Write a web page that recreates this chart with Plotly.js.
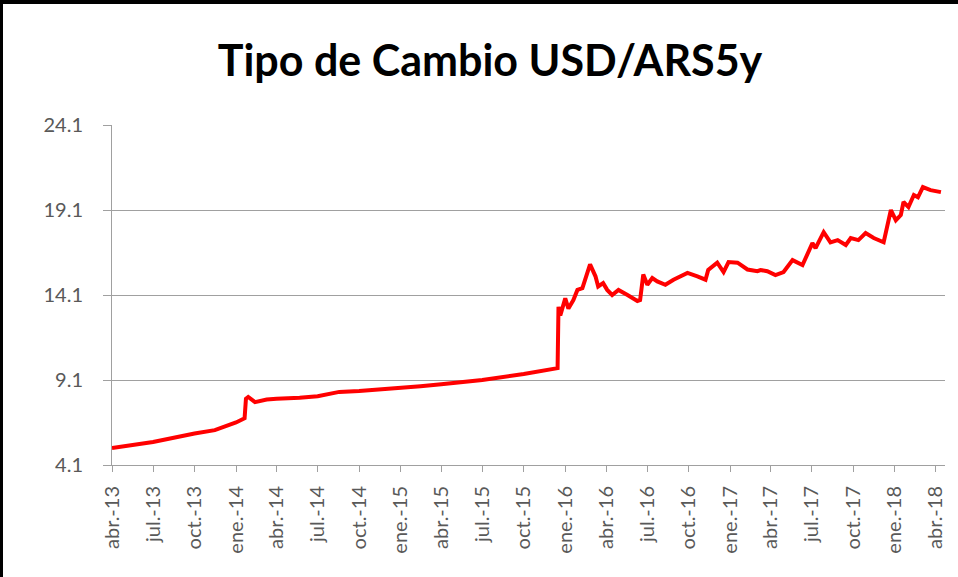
<!DOCTYPE html>
<html>
<head>
<meta charset="utf-8">
<script src="https://cdn.plot.ly/plotly-3.0.1.min.js"></script>
<style>
  html, body { margin: 0; padding: 0; background: #fff; }
  #chart { width: 958px; height: 577px; box-sizing: border-box; border-top: 4px solid #000; border-left: 3px solid #000; }
</style>
</head>
<body>
<div id="chart"></div>
<script>
var dates = [
  '2013-04-01','2013-07-01','2013-10-01','2013-11-15','2014-01-01','2014-01-20','2014-01-23','2014-01-28',
  '2014-02-12','2014-03-10','2014-04-01','2014-05-22','2014-07-01','2014-08-07','2014-08-18','2014-10-01',
  '2015-01-01','2015-02-14','2015-04-01','2015-07-01','2015-10-01','2015-12-15','2015-12-17','2015-12-21',
  '2016-01-01','2016-01-08','2016-01-19','2016-01-28','2016-02-08','2016-02-25','2016-03-08','2016-03-14',
  '2016-03-25','2016-04-03','2016-04-14','2016-04-28','2016-05-18','2016-06-09','2016-06-15','2016-06-22',
  '2016-07-01','2016-07-12','2016-07-23','2016-08-10','2016-08-28','2016-09-28','2016-10-20','2016-11-07',
  '2016-11-13','2016-12-03','2016-12-17','2016-12-28','2017-01-17','2017-02-08','2017-03-02','2017-03-09',
  '2017-03-24','2017-04-11','2017-04-29','2017-05-19','2017-06-10','2017-07-02','2017-07-09','2017-07-27',
  '2017-08-11','2017-08-27','2017-09-14','2017-09-25','2017-10-12','2017-10-28','2017-11-15','2017-12-07',
  '2017-12-23','2018-01-03','2018-01-14','2018-01-20','2018-01-31','2018-02-12','2018-02-21','2018-03-04',
  '2018-03-21','2018-04-13'
];
var usdArs = [
  5.10, 5.45, 5.95, 6.15, 6.60, 6.85, 8.00, 8.10,
  7.80, 7.95, 8.00, 8.05, 8.15, 8.30, 8.40, 8.45,
  8.60, 8.73, 8.85, 9.10, 9.45, 9.80, 13.40, 12.90,
  13.90, 13.30, 13.80, 14.40, 14.50, 15.90, 15.20, 14.60,
  14.80, 14.40, 14.10, 14.40, 14.10, 13.75, 13.80, 15.30,
  14.70, 15.10, 14.90, 14.70, 15.00, 15.40, 15.20, 15.00,
  15.57, 16.00, 15.45, 16.04, 16.00, 15.60, 15.50, 15.57,
  15.50, 15.27, 15.45, 16.15, 15.86, 17.15, 16.86, 17.80,
  17.20, 17.33, 17.04, 17.45, 17.33, 17.74, 17.45, 17.20,
  19.10, 18.50, 18.80, 19.57, 19.27, 19.98, 19.85, 20.45,
  20.27, 20.15
];
var tickDates = [
  '2013-04-01','2013-07-01','2013-10-01','2014-01-01','2014-04-01','2014-07-01','2014-10-01',
  '2015-01-01','2015-04-01','2015-07-01','2015-10-01','2016-01-01','2016-04-01','2016-07-01',
  '2016-10-01','2017-01-01','2017-04-01','2017-07-01','2017-10-01','2018-01-01','2018-04-01'
];
var tickLabels = [
  'abr.-13','jul.-13','oct.-13','ene.-14','abr.-14','jul.-14','oct.-14',
  'ene.-15','abr.-15','jul.-15','oct.-15','ene.-16','abr.-16','jul.-16',
  'oct.-16','ene.-17','abr.-17','jul.-17','oct.-17','ene.-18','abr.-18'
];
var yTicks = [4.1, 9.1, 14.1, 19.1, 24.1];

var trace = {
  x: dates,
  y: usdArs,
  mode: 'lines',
  line: { color: '#ff0000', width: 4 },
  hoverinfo: 'x+y'
};

var layout = {
  width: 955, height: 573,
  margin: { l: 109, r: 13, t: 121, b: 112 },
  paper_bgcolor: '#fff',
  plot_bgcolor: '#fff',
  showlegend: false,
  font: { family: 'Lato, "Open Sans", sans-serif', color: '#595959', size: 20 },
  title: {
    text: 'Tipo de Cambio USD/ARS5y',
    font: { family: 'Lato, "Open Sans", sans-serif', size: 43, color: '#000', weight: 'bold' },
    x: 0.51, xanchor: 'center', y: 0.9, yanchor: 'middle'
  },
  xaxis: {
    type: 'date',
    range: ['2013-04-01', '2018-04-22'],
    tickmode: 'array',
    tickvals: tickDates,
    ticktext: tickLabels,
    tickangle: -90,
    ticks: 'outside', ticklen: 6, tickcolor: '#a0a0a0',
    ticklabelstandoff: 6,
    showgrid: false,
    showline: true, linecolor: '#a0a0a0', linewidth: 1,
    zeroline: false,
    tickfont: { size: 20, color: '#595959' }
  },
  yaxis: {
    range: [4.1, 24.1],
    tickmode: 'array',
    tickvals: yTicks,
    ticktext: yTicks.map(function (v) { return v.toFixed(1); }),
    ticks: 'outside', ticklen: 8, tickcolor: '#a0a0a0',
    ticklabelstandoff: 16,
    showgrid: true, gridcolor: '#a0a0a0', gridwidth: 1,
    showline: true, linecolor: '#a0a0a0', linewidth: 1,
    zeroline: false,
    tickfont: { size: 20, color: '#595959' }
  }
};

Plotly.newPlot('chart', [trace], layout, { displayModeBar: false, staticPlot: true });
</script>
</body>
</html>
